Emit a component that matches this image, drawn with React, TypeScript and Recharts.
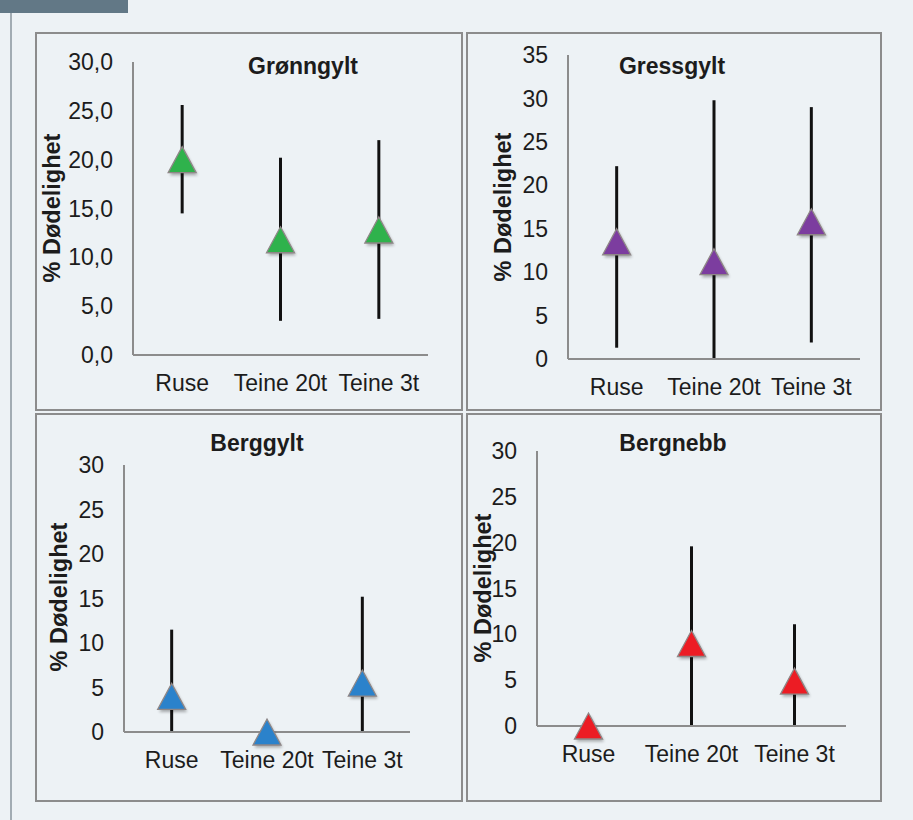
import React from 'react';
import { ComposedChart, Scatter, ErrorBar, XAxis, YAxis } from 'recharts';

// Gears (x) shared by all four species
const categories = ['Ruse', 'Teine 20t', 'Teine 3t'];

// % dødelighet, mean with lower / upper confidence limits
const gronnMean = [20.0, 11.8, 12.8];
const gronnLow = [14.5, 3.5, 3.7];
const gronnHigh = [25.6, 20.2, 22.0];

const gressMean = [13.5, 11.2, 15.8];
const gressLow = [1.3, 0, 1.9];
const gressHigh = [22.2, 29.8, 29.0];

const bergMean = [4.0, 0, 5.5];
const bergLow = [0, 0, 0];
const bergHigh = [11.5, 0, 15.2];

const nebbMean = [0, 9.0, 4.9];
const nebbLow = [0, 0, 0];
const nebbHigh = [0, 19.6, 11.1];

const ticks30 = [0, 5, 10, 15, 20, 25, 30];
const ticks35 = [0, 5, 10, 15, 20, 25, 30, 35];

const FONT = '"Liberation Sans", Arial, sans-serif';
const AXIS_GRAY = '#8c8c8c';

const buildRows = (mean: number[], low: number[], high: number[]) =>
  categories.map((name, i) => ({
    name,
    value: mean[i],
    err: [mean[i] - low[i], high[i] - mean[i]],
  }));

const Triangle = (props: any) => {
  const { cx, cy, fill } = props;
  if (cx == null || cy == null) return null;
  const w = 28;
  const h = 26;
  const pts = `${cx},${cy - h / 2} ${cx + w / 2},${cy + h / 2} ${cx - w / 2},${cy + h / 2}`;
  return (
    <g>
      <defs>
        <filter id="triShadow" x="-50%" y="-50%" width="200%" height="200%">
          <feGaussianBlur stdDeviation="1.6" />
        </filter>
      </defs>
      <polygon points={pts} transform="translate(1.5,2.5)" fill="#000" opacity={0.3} filter="url(#triShadow)" />
      <polygon points={pts} fill={fill} stroke="#8f8787" strokeWidth={1.3} />
    </g>
  );
};

interface PanelProps {
  title: string;
  color: string;
  rows: any[];
  max: number;
  ticks: number[];
  decimals?: boolean;
  box: { left: number; top: number; width: number; height: number };
  plot: { left: number; top: number; right: number; bottom: number };
  titlePos: [number, number];
  labelPos: [number, number];
}

const Panel: React.FC<PanelProps> = ({ title, color, rows, max, ticks, decimals, box, plot, titlePos, labelPos }) => {
  const xAxisH = 40;
  const yAxisW = plot.left - box.left;
  const margin = {
    top: plot.top - box.top,
    right: box.left + box.width - plot.right,
    left: 0,
    bottom: box.top + box.height - plot.bottom - xAxisH,
  };
  // half a category band on each side so the marks sit in the band centres
  const halfBand = (plot.right - plot.left) / categories.length / 2;
  const tickStyle = { fill: '#1c1c1c', fontSize: 23, fontFamily: FONT };
  return (
    <>
      <div
        style={{
          position: 'absolute',
          left: box.left,
          top: box.top,
          width: box.width,
          height: box.height,
          border: `2px solid ${AXIS_GRAY}`,
          boxSizing: 'border-box',
        }}
      />
      <div style={{ position: 'absolute', left: box.left, top: box.top }}>
        <ComposedChart width={box.width} height={box.height} data={rows} margin={margin}>
          <XAxis
            dataKey="name"
            type="category"
            height={xAxisH}
            padding={{ left: halfBand, right: halfBand }}
            axisLine={{ stroke: AXIS_GRAY, strokeWidth: 2 }}
            tickLine={false}
            tickMargin={14}
            tick={tickStyle}
            interval={0}
          />
          <YAxis
            type="number"
            domain={[0, max]}
            ticks={ticks}
            width={yAxisW}
            axisLine={{ stroke: AXIS_GRAY, strokeWidth: 2 }}
            tickLine={false}
            tickMargin={14}
            tick={tickStyle}
            tickFormatter={(v: number) => (decimals ? v.toFixed(1).replace('.', ',') : String(v))}
            interval={0}
          />
          <Scatter dataKey="value" fill={color} shape={<Triangle />} isAnimationActive={false}>
            <ErrorBar dataKey="err" direction="y" width={0} stroke="#111" strokeWidth={3} isAnimationActive={false} />
          </Scatter>
        </ComposedChart>
      </div>
      <div
        style={{
          position: 'absolute',
          left: titlePos[0],
          top: titlePos[1],
          transform: 'translate(-50%, -50%)',
          fontFamily: FONT,
          fontWeight: 'bold',
          fontSize: 23,
          color: '#1c1c1c',
          whiteSpace: 'nowrap',
        }}
      >
        {title}
      </div>
      <div
        style={{
          position: 'absolute',
          left: labelPos[0],
          top: labelPos[1],
          transform: 'translate(-50%, -50%) rotate(-90deg)',
          fontFamily: FONT,
          fontWeight: 'bold',
          fontSize: 23.5,
          color: '#1c1c1c',
          whiteSpace: 'nowrap',
        }}
      >
        % Dødelighet
      </div>
    </>
  );
};

export default function App() {
  return (
    <div
      style={{
        position: 'absolute',
        left: 0,
        top: 0,
        width: 913,
        height: 820,
        background: '#edf2f5',
        overflow: 'hidden',
      }}
    >
      <div style={{ position: 'absolute', left: 0, top: 0, width: 128, height: 13, background: '#627886' }} />
      <div style={{ position: 'absolute', left: 10, top: 13, width: 2, height: 807, background: '#a2acb3' }} />

      <Panel
        title="Grønngylt"
        color="#2fb24c"
        rows={buildRows(gronnMean, gronnLow, gronnHigh)}
        max={30}
        ticks={ticks30}
        decimals
        box={{ left: 35, top: 32, width: 428, height: 379 }}
        plot={{ left: 133, top: 62, right: 428, bottom: 355 }}
        titlePos={[303, 66]}
        labelPos={[52, 208]}
      />
      <Panel
        title="Gressgylt"
        color="#7c3d9f"
        rows={buildRows(gressMean, gressLow, gressHigh)}
        max={35}
        ticks={ticks35}
        box={{ left: 466, top: 32, width: 416, height: 379 }}
        plot={{ left: 568, top: 55, right: 860, bottom: 359 }}
        titlePos={[672, 66]}
        labelPos={[503, 207]}
      />
      <Panel
        title="Berggylt"
        color="#2b82cb"
        rows={buildRows(bergMean, bergLow, bergHigh)}
        max={30}
        ticks={ticks30}
        box={{ left: 35, top: 413, width: 428, height: 389 }}
        plot={{ left: 124, top: 465, right: 410, bottom: 732 }}
        titlePos={[257, 443]}
        labelPos={[59, 597]}
      />
      <Panel
        title="Bergnebb"
        color="#ec1c24"
        rows={buildRows(nebbMean, nebbLow, nebbHigh)}
        max={30}
        ticks={ticks30}
        box={{ left: 466, top: 413, width: 416, height: 389 }}
        plot={{ left: 537, top: 451, right: 846, bottom: 726 }}
        titlePos={[673, 443]}
        labelPos={[483, 588]}
      />
    </div>
  );
}
